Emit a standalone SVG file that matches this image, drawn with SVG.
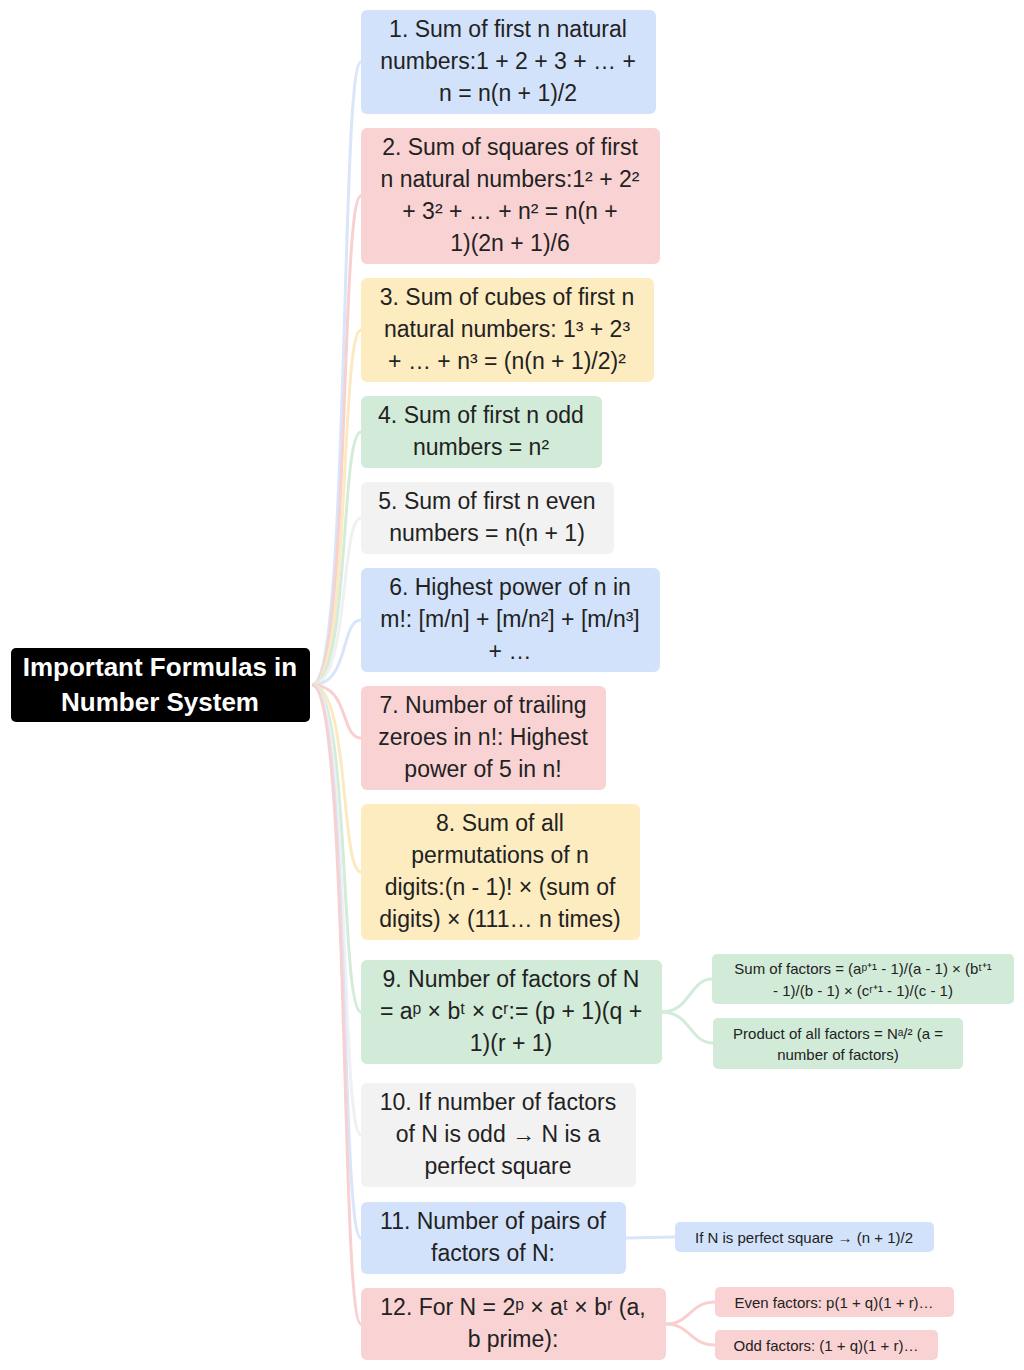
<svg xmlns="http://www.w3.org/2000/svg" width="1024" height="1370" viewBox="0 0 1024 1370">
<style>
text{font-family:"Liberation Sans",Arial,sans-serif;fill:#222;text-anchor:middle;dominant-baseline:central}
.t{font-size:23px}.s{font-size:15px}
.root text{fill:#fff;font-weight:bold;font-size:26px}
.b{fill:#d3e2fb}.r{fill:#f9d3d3}.y{fill:#fcecc0}.g{fill:#d1ebd8}.k{fill:#f2f2f2}
.c path{fill:none;stroke-width:3}
.lb{stroke:#d8e5fb}.lr{stroke:#f8d0d0}.ly{stroke:#fbeac0}.lg{stroke:#d3ecd9}.lk{stroke:#f0f0f0}
</style>
<rect width="1024" height="1370" fill="#fff"/>
<g class="c" id="connectors">
<path class="lb" d="M312,685 C350,685 340,62 361,62"/>
<path class="lr" d="M312,685 C350,685 340,196 361,196"/>
<path class="ly" d="M312,685 C350,685 340,330 361,330"/>
<path class="lg" d="M312,685 C350,685 340,432 361,432"/>
<path class="lk" d="M312,685 C350,685 340,518 361,518"/>
<path class="lb" d="M312,685 C350,685 340,620 361,620"/>
<path class="lr" d="M312,685 C350,685 340,738 361,738"/>
<path class="ly" d="M312,685 C350,685 340,872 361,872"/>
<path class="lg" d="M312,685 C350,685 340,1012 361,1012"/>
<path class="lk" d="M312,685 C350,685 340,1135 361,1135"/>
<path class="lb" d="M312,685 C350,685 340,1238 361,1238"/>
<path class="lr" d="M312,685 C350,685 340,1324 361,1324"/>
<path class="lg" d="M662,1012 C690,1012 690,979 712,979"/>
<path class="lg" d="M662,1012 C690,1012 690,1043 713,1043"/>
<path class="lb" d="M626,1238 L675,1237"/>
<path class="lr" d="M666,1324 C690,1324 690,1302 715,1302"/>
<path class="lr" d="M666,1324 C690,1324 690,1345 715,1345"/>
</g>
<g id="root" class="root"><rect x="11" y="648" width="299" height="74" rx="5" fill="#000"/><text x="160" y="667">Important Formulas in</text><text x="160" y="702">Number System</text></g>
<g id="n1" class="t"><rect class="b" x="361" y="10" width="295" height="104" rx="6"/><text x="508" y="29">1. Sum of first n natural</text><text x="508" y="61">numbers:1 + 2 + 3 + … +</text><text x="508" y="93">n = n(n + 1)/2</text></g>
<g id="n2" class="t"><rect class="r" x="361" y="128" width="299" height="136" rx="6"/><text x="510" y="147">2. Sum of squares of first</text><text x="510" y="179">n natural numbers:1² + 2²</text><text x="510" y="211">+ 3² + … + n² = n(n +</text><text x="510" y="243">1)(2n + 1)/6</text></g>
<g id="n3" class="t"><rect class="y" x="361" y="278" width="293" height="104" rx="6"/><text x="507" y="297">3. Sum of cubes of first n</text><text x="507" y="329">natural numbers: 1³ + 2³</text><text x="507" y="361">+ … + n³ = (n(n + 1)/2)²</text></g>
<g id="n4" class="t"><rect class="g" x="361" y="396" width="241" height="72" rx="6"/><text x="481" y="415">4. Sum of first n odd</text><text x="481" y="447">numbers = n²</text></g>
<g id="n5" class="t"><rect class="k" x="361" y="482" width="253" height="72" rx="6"/><text x="487" y="501">5. Sum of first n even</text><text x="487" y="533">numbers = n(n + 1)</text></g>
<g id="n6" class="t"><rect class="b" x="361" y="568" width="299" height="104" rx="6"/><text x="510" y="587">6. Highest power of n in</text><text x="510" y="619">m!: [m/n] + [m/n²] + [m/n³]</text><text x="510" y="651">+ …</text></g>
<g id="n7" class="t"><rect class="r" x="361" y="686" width="245" height="104" rx="6"/><text x="483" y="705">7. Number of trailing</text><text x="483" y="737">zeroes in n!: Highest</text><text x="483" y="769">power of 5 in n!</text></g>
<g id="n8" class="t"><rect class="y" x="361" y="804" width="279" height="136" rx="6"/><text x="500" y="823">8. Sum of all</text><text x="500" y="855">permutations of n</text><text x="500" y="887">digits:(n - 1)! × (sum of</text><text x="500" y="919">digits) × (111… n times)</text></g>
<g id="n9" class="t"><rect class="g" x="361" y="960" width="301" height="104" rx="6"/><text x="511" y="979">9. Number of factors of N</text><text x="511" y="1011">= aᵖ × bᵗ × cʳ:= (p + 1)(q +</text><text x="511" y="1043">1)(r + 1)</text></g>
<g id="n10" class="t"><rect class="k" x="361" y="1083" width="275" height="104" rx="6"/><text x="498" y="1102">10. If number of factors</text><text x="498" y="1134">of N is odd → N is a</text><text x="498" y="1166">perfect square</text></g>
<g id="n11" class="t"><rect class="b" x="361" y="1202" width="265" height="72" rx="6"/><text x="493" y="1221">11. Number of pairs of</text><text x="493" y="1253">factors of N:</text></g>
<g id="n12" class="t"><rect class="r" x="361" y="1288" width="305" height="72" rx="6"/><text x="513" y="1307">12. For N = 2ᵖ × aᵗ × bʳ (a,</text><text x="513" y="1339">b prime):</text></g>
<g id="s1" class="s"><rect class="g" x="712" y="954" width="302" height="50" rx="5"/><text x="863" y="968">Sum of factors = (aᵖ⁺¹ - 1)/(a - 1) × (bᵗ⁺¹</text><text x="863" y="990">- 1)/(b - 1) × (cʳ⁺¹ - 1)/(c - 1)</text></g>
<g id="s2" class="s"><rect class="g" x="713" y="1018" width="250" height="51" rx="5"/><text x="838" y="1033">Product of all factors = Nᵃ/² (a =</text><text x="838" y="1054">number of factors)</text></g>
<g id="s3" class="s"><rect class="b" x="675" y="1222" width="259" height="30" rx="5"/><text x="804" y="1237">If N is perfect square → (n + 1)/2</text></g>
<g id="s4" class="s"><rect class="r" x="715" y="1287" width="239" height="30" rx="5"/><text x="834" y="1302">Even factors: p(1 + q)(1 + r)…</text></g>
<g id="s5" class="s"><rect class="r" x="715" y="1330" width="223" height="30" rx="5"/><text x="826" y="1345">Odd factors: (1 + q)(1 + r)…</text></g>
</svg>
